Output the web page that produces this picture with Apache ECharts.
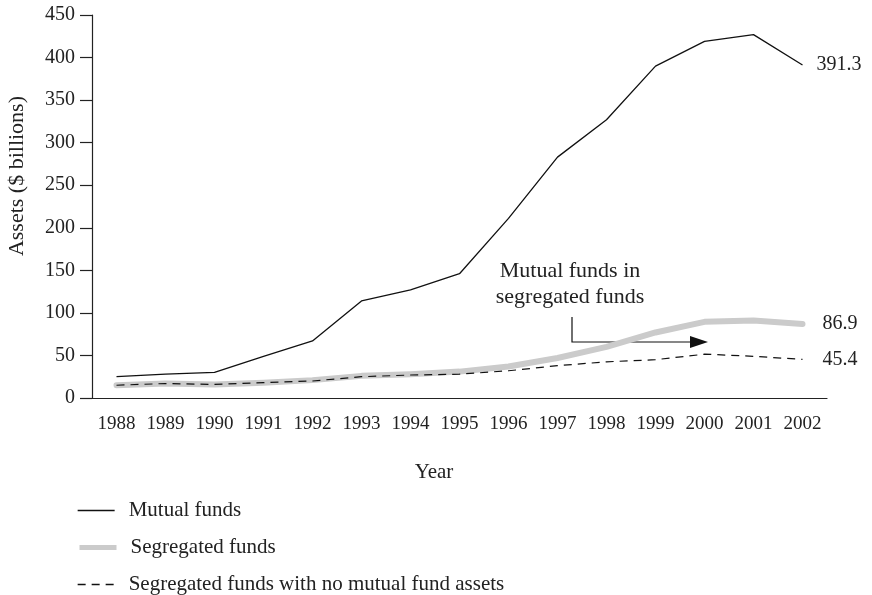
<!DOCTYPE html>
<html>
<head>
<meta charset="utf-8">
<script src="https://cdn.jsdelivr.net/npm/echarts@6/dist/echarts.min.js"></script>
<style>
  html, body { margin: 0; padding: 0; background: #fff; }
  #mychart { width: 872px; height: 595px; }
</style>
</head>
<body>
<div id="mychart"></div>
<script>
// data ($ billions)
var years = ['1988', '1989', '1990', '1991', '1992', '1993', '1994', '1995', '1996', '1997', '1998', '1999', '2000', '2001', '2002'];
var mutualFunds = [25, 28, 30, 49, 67, 114, 127, 146, 211, 283, 327, 390, 419, 427, 391.3];
var segregatedFunds = [15, 17, 16, 18, 21, 26, 28, 31, 37, 47, 60, 77, 89.5, 91, 86.9];
var segNoMutual = [15, 17, 16, 18, 20, 25, 27, 28, 32, 38, 42.5, 45, 51.5, 49, 45.4];
var yTicks = { min: 0, max: 450, interval: 50 };
var seriesNames = ['Mutual funds', 'Segregated funds', 'Segregated funds with no mutual fund assets'];

var serif = '"Liberation Serif", "DejaVu Serif", serif';
var ink = '#222';

var myChart = echarts.init(document.getElementById('mychart'));

function endLabel(dist) {
  return {
    show: true,
    distance: dist,
    color: ink,
    fontFamily: serif,
    fontSize: 20,
    formatter: function (p) { return p.value; }
  };
}

// one legend per row so nothing wraps into columns
function legendRow(name, top, lineWidth) {
  return {
    orient: 'vertical',
    left: 77,
    top: top,
    padding: 0,
    itemWidth: 37,
    itemHeight: 14,
    itemStyle: { opacity: 0 },
    lineStyle: { width: lineWidth, cap: 'butt' },
    textStyle: { color: ink, fontFamily: serif, fontSize: 21, padding: [0, 0, 0, 9] },
    data: [name]
  };
}

var option = {
  backgroundColor: '#fff',
  animation: false,
  textStyle: { fontFamily: serif, color: ink },
  grid: { left: 92, right: 45, top: 15, bottom: 197 },
  xAxis: {
    type: 'category',
    data: years,
    boundaryGap: true,
    axisLine: { lineStyle: { color: ink, width: 1.2 } },
    axisTick: { alignWithLabel: true, length: 8, lineStyle: { color: ink, width: 1.2 } },
    axisLabel: { color: ink, fontFamily: serif, fontSize: 19, margin: 17, interval: 0 },
    splitLine: { show: false }
  },
  yAxis: {
    type: 'value',
    min: yTicks.min,
    max: yTicks.max,
    interval: yTicks.interval,
    axisLine: { show: true, lineStyle: { color: ink, width: 1.2 } },
    axisTick: { show: true, length: 12, lineStyle: { color: ink, width: 1.2 } },
    axisLabel: { color: ink, fontFamily: serif, fontSize: 20, margin: 17 },
    splitLine: { show: false }
  },
  legend: [
    legendRow(seriesNames[0], 500, 1.3),
    legendRow(seriesNames[1], 537, 5),
    legendRow(seriesNames[2], 574, 1.3)
  ],
  series: [
    {
      name: seriesNames[1],
      type: 'line',
      data: segregatedFunds,
      symbol: 'none',
      lineStyle: { color: '#cbcbcb', width: 6, cap: 'round', join: 'round' },
      itemStyle: { color: '#cbcbcb' },
      endLabel: endLabel(20),
      z: 1
    },
    {
      name: seriesNames[2],
      type: 'line',
      data: segNoMutual,
      symbol: 'none',
      lineStyle: { color: '#111', width: 1.2, type: [8, 6] },
      itemStyle: { color: '#111' },
      endLabel: endLabel(20),
      z: 2
    },
    {
      name: seriesNames[0],
      type: 'line',
      data: mutualFunds,
      symbol: 'none',
      lineStyle: { color: '#111', width: 1.3 },
      itemStyle: { color: '#111' },
      endLabel: endLabel(14),
      z: 3
    }
  ],
  graphic: [
    {
      type: 'text',
      left: 6,
      top: 96,
      rotation: Math.PI / 2,
      style: { text: 'Assets ($ billions)', fill: ink, font: '22px ' + serif }
    },
    {
      type: 'text',
      x: 434,
      y: 472,
      style: { text: 'Year', fill: ink, font: '21px ' + serif, align: 'center', verticalAlign: 'middle' }
    },
    {
      type: 'text',
      x: 570,
      y: 284,
      style: { text: 'Mutual funds in\nsegregated funds', fill: ink, font: '22px ' + serif, align: 'center', verticalAlign: 'middle', lineHeight: 26 }
    },
    {
      type: 'polyline',
      shape: { points: [[572, 317], [572, 342], [692, 342]] },
      style: { stroke: '#111', lineWidth: 1.2, fill: null }
    },
    {
      type: 'polygon',
      shape: { points: [[690, 336], [708, 342], [690, 348]] },
      style: { fill: '#111' }
    }
  ]
};

myChart.setOption(option);
</script>
</body>
</html>
